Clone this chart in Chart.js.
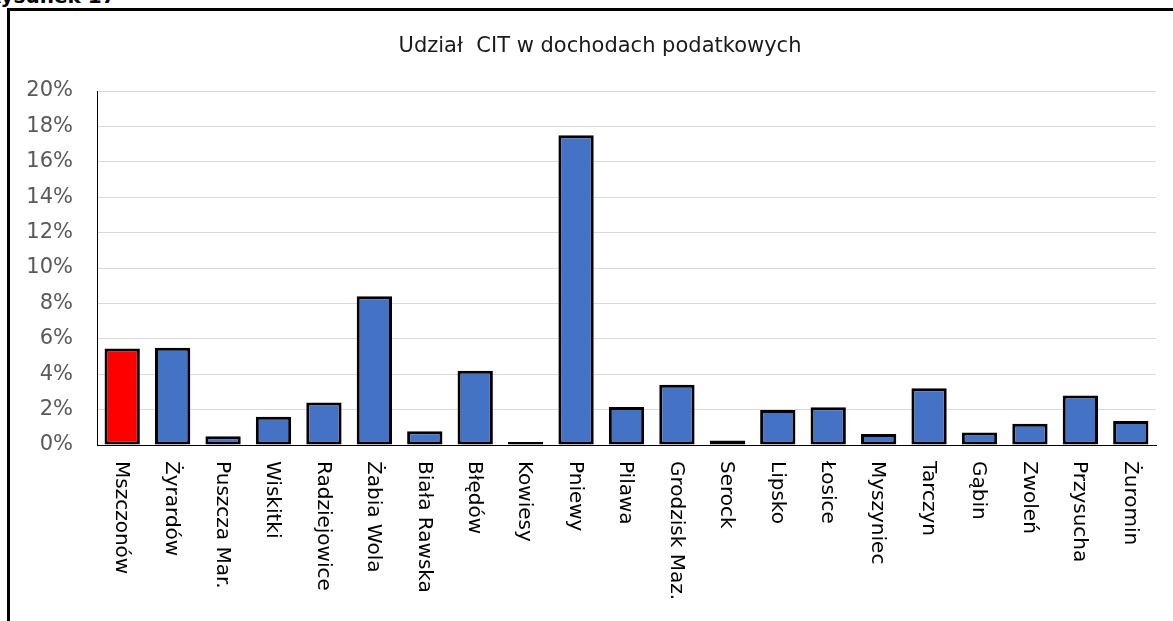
<!DOCTYPE html>
<html>
<head>
<meta charset="utf-8">
<script src="https://cdn.jsdelivr.net/npm/chart.js@4.4.0/dist/chart.umd.min.js"></script>
<style>
  html, body { margin: 0; padding: 0; background: #fff; overflow: hidden; }
  #wrap { position: relative; width: 1173px; height: 621px; }
  #cap { position: absolute; left: -14px; top: -16px; font: bold 20px "DejaVu Sans", sans-serif; color: #000; white-space: nowrap; }
  #frame { position: absolute; left: 7px; top: 8px; width: 1200px; height: 700px; border-left: 3px solid #000; border-top: 3px solid #000; box-sizing: border-box; }
  canvas { position: absolute; left: 0; top: 0; }
</style>
</head>
<body>
<div id="wrap">
  <div id="cap">Rysunek 17</div>
  <div id="frame"></div>
  <canvas id="c" width="1173" height="621"></canvas>
</div>
<script>
const categories = ["Mszczonów","Żyrardów","Puszcza Mar.","Wiskitki","Radziejowice","Żabia Wola","Biała Rawska","Błędów","Kowiesy","Pniewy","Pilawa","Grodzisk Maz.","Serock","Lipsko","Łosice","Myszyniec","Tarczyn","Gąbin","Zwoleń","Przysucha","Żuromin"];
const citShare = [5.45,5.5,0.5,1.6,2.4,8.4,0.78,4.2,0.17,17.5,2.15,3.4,0.25,1.98,2.13,0.62,3.2,0.7,1.2,2.8,1.35];
const highlightIndex = 0;
const yTicks = [0,2,4,6,8,10,12,14,16,18,20];
const chartTitle = "Udział  CIT w dochodach podatkowych";

const FONT = '"DejaVu Sans", sans-serif';

const customText = {
  id: 'customText',
  afterDraw(chart) {
    const ctx = chart.ctx;
    const x = chart.scales.x;
    ctx.save();
    // title
    ctx.font = '21px ' + FONT;
    ctx.fillStyle = '#1a1a1a';
    ctx.textAlign = 'center';
    ctx.textBaseline = 'middle';
    ctx.fillText(chartTitle, 600, 47);
    // vertical category labels (reading top to bottom)
    const top = chart.chartArea.bottom + 16;
    ctx.font = '20px ' + FONT;
    ctx.fillStyle = '#000';
    ctx.textAlign = 'left';
    ctx.textBaseline = 'middle';
    categories.forEach((lab, i) => {
      const px = x.getPixelForValue(i) - 1;
      ctx.save();
      ctx.translate(px, top);
      ctx.rotate(Math.PI / 2);
      ctx.fillText(lab, 0, 0);
      ctx.restore();
    });
    ctx.restore();
  }
};

new Chart(document.getElementById('c'), {
  type: 'bar',
  data: {
    labels: categories,
    datasets: [{
      data: citShare,
      backgroundColor: citShare.map((v, i) => i === highlightIndex ? '#ff0000' : '#4472c4'),
      borderColor: '#000',
      borderWidth: 3,
      borderSkipped: false,
      barPercentage: 0.70,
      categoryPercentage: 1.0
    }]
  },
  options: {
    responsive: false,
    animation: false,
    devicePixelRatio: 1,
    layout: { padding: { left: 0, right: 17, top: 91, bottom: 0 } },
    plugins: {
      legend: { display: false },
      tooltip: { enabled: false },
      title: { display: false }
    },
    scales: {
      x: {
        grid: { display: false, drawTicks: false },
        border: { color: '#000', width: 1 },
        ticks: { display: false },
        afterFit(s) { s.height = 176; }
      },
      y: {
        min: 0, max: 20,
        afterBuildTicks(s) { s.ticks = yTicks.map(v => ({ value: v })); },
        grid: { color: '#d9d9d9', lineWidth: 1, drawTicks: false },
        border: { color: '#000', width: 1 },
        ticks: {
          color: '#595959',
          font: { family: FONT, size: 21 },
          padding: 24,
          callback: v => v + '%'
        },
        afterFit(s) { s.width = 97; }
      }
    }
  },
  plugins: [customText]
});
</script>
</body>
</html>
